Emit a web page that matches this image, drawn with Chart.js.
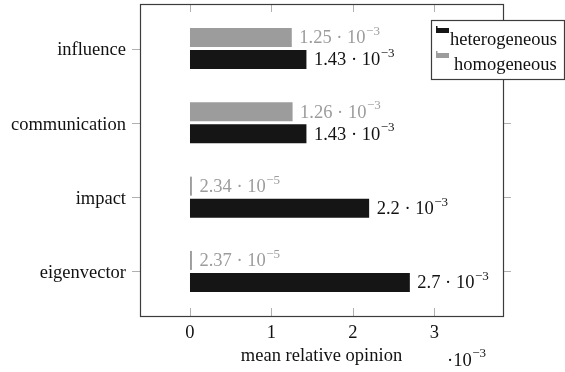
<!DOCTYPE html>
<html>
<head>
<meta charset="utf-8">
<script src="https://cdn.jsdelivr.net/npm/chart.js@4"></script>
<style>
  html, body { margin: 0; padding: 0; background: #fff; }
  #wrap { width: 565px; height: 372px; }
</style>
</head>
<body>
<div id="wrap"><canvas id="myChart" width="565" height="372"></canvas></div>
<script>
// data
const categories = ['influence', 'communication', 'impact', 'eigenvector'];
const heterogeneous = [1.43e-3, 1.43e-3, 2.2e-3, 2.7e-3];
const homogeneous = [1.25e-3, 1.26e-3, 2.34e-5, 2.37e-5];
const xTicks = [0, 1e-3, 2e-3, 3e-3];

const FONT = 'Liberation Serif';
const BLACK = '#151515';
const GREY = '#9c9c9c';
const FRAME = '#3c3c3c';
const TICK = '#b0b0b0';

function toPoints(values) {
  return values.map(function (v, i) { return { x: v, y: i }; });
}

// mantissa and exponent for "m · 10^e"
function sciParts(v) {
  var e = Math.floor(Math.log10(v));
  var m = parseFloat((v / Math.pow(10, e)).toFixed(2));
  return { m: String(m), e: String(e).replace('-', '\u2212') };
}

// base text then a raised exponent
function drawSup(ctx, x, y, base, exp, color) {
  ctx.fillStyle = color;
  ctx.textBaseline = 'middle';
  ctx.textAlign = 'left';
  ctx.font = '18.5px "' + FONT + '"';
  ctx.fillText(base, x, y);
  var w = ctx.measureText(base).width;
  ctx.font = '13px "' + FONT + '"';
  ctx.fillText(exp, x + w + 0.5, y - 7);
}

const decorations = {
  id: 'decorations',
  afterDatasetsDraw: function (chart) {
    var ctx = chart.ctx;
    var a = chart.chartArea;
    var xs = chart.scales.x, ys = chart.scales.y;
    ctx.save();

    // value labels
    chart.data.datasets.forEach(function (ds, di) {
      var meta = chart.getDatasetMeta(di);
      meta.data.forEach(function (bar, i) {
        var p = sciParts(ds.data[i].x);
        drawSup(ctx, bar.x + 7.5, bar.y + 1, p.m + ' \u00b7 10', p.e, ds.labelColor);
      });
    });

    // ticks
    ctx.strokeStyle = TICK;
    ctx.lineWidth = 1;
    ctx.beginPath();
    xTicks.forEach(function (v) {
      var px = Math.round(xs.getPixelForValue(v)) + 0.5;
      ctx.moveTo(px, a.top); ctx.lineTo(px, a.top + 8);
      ctx.moveTo(px, a.bottom); ctx.lineTo(px, a.bottom - 8);
    });
    categories.forEach(function (c, i) {
      var py = Math.round(ys.getPixelForValue(i)) + 0.5;
      ctx.moveTo(a.left, py); ctx.lineTo(a.left - 8, py);
      ctx.moveTo(a.right, py); ctx.lineTo(a.right + 8, py);
    });
    ctx.stroke();

    // frame
    ctx.strokeStyle = FRAME;
    ctx.lineWidth = 1.2;
    ctx.strokeRect(Math.round(a.left) + 0.5, Math.round(a.top) + 0.5,
      Math.round(a.right - a.left), Math.round(a.bottom - a.top));

    // x multiplier
    drawSup(ctx, 447, 361, '\u00b710', '\u22123', '#111');
    ctx.restore();
  },
  afterDraw: function (chart) {
    var ctx = chart.ctx;
    ctx.save();
    // legend box
    var lx = 431.5, ly = 20.5, lw = 133, lh = 59;
    ctx.fillStyle = '#fff';
    ctx.fillRect(lx, ly, lw, lh);
    ctx.strokeStyle = FRAME;
    ctx.lineWidth = 1.2;
    ctx.strokeRect(lx, ly, lw, lh);
    var entries = [
      { text: 'heterogeneous', color: BLACK, y: 39, tx: 450 },
      { text: 'homogeneous', color: GREY, y: 64, tx: 454 }
    ];
    entries.forEach(function (en) {
      ctx.fillStyle = en.color;
      ctx.fillRect(436, en.y - 11, 13, 5);
      ctx.fillRect(436, en.y - 13, 1.5, 7);
      ctx.fillStyle = '#111';
      ctx.font = '18.5px "' + FONT + '"';
      ctx.textBaseline = 'middle';
      ctx.textAlign = 'left';
      ctx.fillText(en.text, en.tx, en.y + 1);
    });
    ctx.restore();
  }
};

const ctx = document.getElementById('myChart');
new Chart(ctx, {
  type: 'bar',
  data: {
    datasets: [{
      label: 'homogeneous',
      data: toPoints(homogeneous),
      backgroundColor: GREY,
      labelColor: GREY
    }, {
      label: 'heterogeneous',
      data: toPoints(heterogeneous),
      backgroundColor: BLACK,
      labelColor: '#111'
    }]
  },
  options: {
    indexAxis: 'y',
    responsive: false,
    animation: false,
    events: [],
    categoryPercentage: 0.592,
    barPercentage: 0.864,
    layout: { padding: { top: 4, right: 62, left: 0, bottom: 0 } },
    plugins: { legend: { display: false }, tooltip: { enabled: false } },
    scales: {
      x: {
        type: 'linear',
        min: -0.614e-3,
        max: 3.844e-3,
        afterBuildTicks: function (s) { s.ticks = xTicks.map(function (v) { return { value: v }; }); },
        afterFit: function (s) { s.height = 56; s.paddingLeft = 0; s.paddingRight = 0; },
        grid: { display: false, drawTicks: false, tickLength: 0 },
        border: { display: false },
        ticks: {
          color: '#111',
          font: { family: FONT, size: 18.5 },
          padding: 6,
          maxRotation: 0,
          callback: function (v) { return String(Math.round(v * 1000)); }
        },
        title: {
          display: true,
          text: 'mean relative opinion',
          color: '#111',
          font: { family: FONT, size: 18.5 },
          padding: { top: 6, bottom: 5 }
        }
      },
      y: {
        type: 'linear',
        reverse: true,
        offset: false,
        min: -0.6,
        max: 3.6,
        afterBuildTicks: function (s) { s.ticks = categories.map(function (c, i) { return { value: i }; }); },
        afterFit: function (s) { s.width = 140; s.paddingTop = 0; s.paddingBottom = 0; },
        grid: { display: false, drawTicks: false, tickLength: 0 },
        border: { display: false },
        ticks: {
          color: '#111',
          font: { family: FONT, size: 18.5 },
          padding: 14,
          labelOffset: 2,
          callback: function (v) { return categories[v]; }
        }
      }
    }
  },
  plugins: [decorations]
});
</script>
</body>
</html>
